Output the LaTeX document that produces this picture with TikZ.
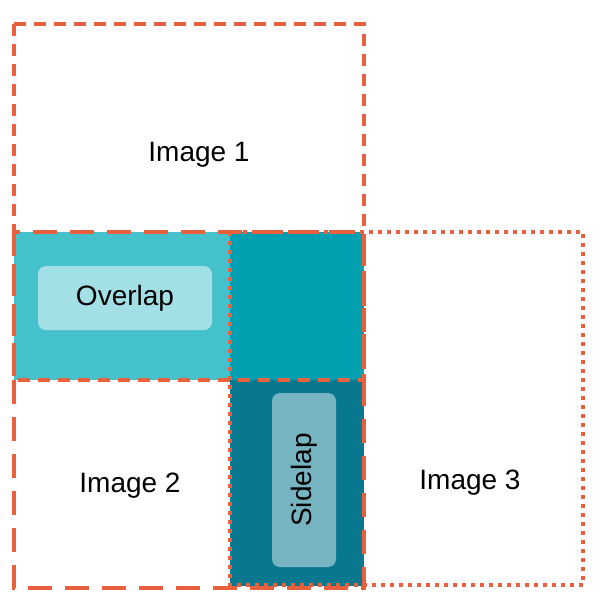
\documentclass[tikz,border=0pt]{standalone}
\usepackage{fontspec}
\setmainfont{Liberation Sans}
\definecolor{edgered}{HTML}{E8603E}
\definecolor{tealA}{HTML}{45C1CB}
\definecolor{tealB}{HTML}{00A0B0}
\definecolor{tealC}{HTML}{08788F}
\tikzset{
  frame/.style={draw=edgered, line width=3.5pt},
  tag/.style={rounded corners=8pt, fill=white, fill opacity=0.5, text opacity=1, font=\fontsize{28}{30}\selectfont},
  caption/.style={font=\fontsize{28}{30}\selectfont}
}
\begin{document}
\begin{tikzpicture}[x=1pt,y=-1pt]
   \useasboundingbox (0,0) rectangle (615,603);
   % coloured overlap areas
   \fill[tealA] (14,232) rectangle (230,380);
   \fill[tealB] (230,232) rectangle (364,380);
   \fill[tealC] (230,380) rectangle (364,586);
   % image frames
   \draw[frame, dash pattern=on 12pt off 8pt] (14,24) rectangle (364,380);
   \draw[frame, dash pattern=on 24pt off 13pt] (14,232) rectangle (364,588);
   \draw[frame, dash pattern=on 4pt off 5pt] (230,232) rectangle (583,585);
   % labels
   \node[caption] (img1) at (199,155) {Image 1};
   \node[caption] (img2) at (130,486) {Image 2};
   \node[caption] (img3) at (470,483) {Image 3};
   \node[tag, minimum width=174pt, minimum height=64pt] (overlap) at (125,298) {Overlap};
   \node[tag, fill=white, fill opacity=0.45, minimum width=174pt, minimum height=64pt, rotate=90] (sidelap) at (304,480) {Sidelap};
\end{tikzpicture}
\end{document}
